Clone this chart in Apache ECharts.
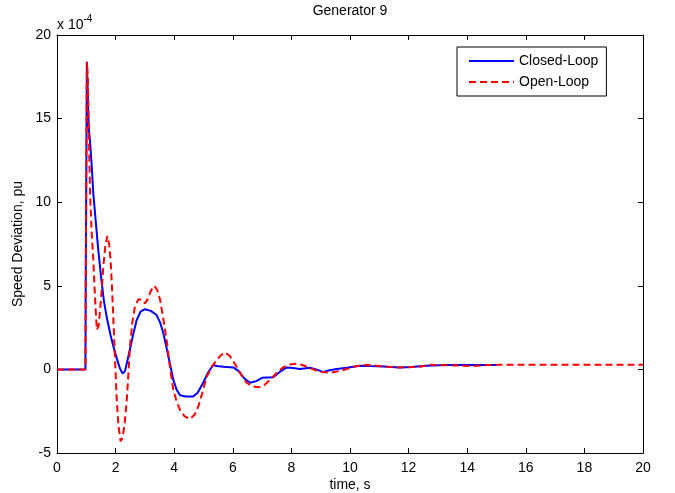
<!DOCTYPE html>
<html>
<head>
<meta charset="utf-8">
<script src="https://cdn.jsdelivr.net/npm/echarts@6/dist/echarts.min.js"></script>
<style>
html,body{margin:0;padding:0;background:#ffffff;}
#chart{width:675px;height:493px;}
</style>
</head>
<body>
<div id="chart"></div>
<script>
/**
 * =====================================================
 * Generator 9 - Speed Deviation (x 10^-4 pu)
 * =====================================================
 */

const seriesNames=["Closed-Loop","Open-Loop"];

const xTicks=[0,2,4,6,8,10,12,14,16,18,20];
const yTicks=[-5,0,5,10,15,20];

const closedTime=[
    0,0.97,0.98,1.02,1.05,1.08,1.12,1.18,1.24,1.32,1.40,1.50,1.60,1.70,1.82,1.92,
    2.05,2.15,2.24,2.32,2.40,2.49,2.60,2.72,2.85,3.0,3.2,3.4,3.52,3.63,3.75,3.87,
    3.97,4.08,4.2,4.4,4.65,4.8,4.99,5.15,5.33,5.45,5.68,6.02,6.2,6.4,6.59,6.8,
    7.0,7.38,7.6,7.84,8.05,8.29,8.63,8.85,9.09,9.3,9.55,9.89,10.34,10.7,11.14,
    11.7,12.1,12.6,13.3,14.0,15.0
];

const closedValue=[
    0,0,4.9,18.4,16.5,14.5,13.8,12.3,10.5,8.9,7.3,5.6,4.1,3.1,2.1,1.4,
    0.6,0.05,-0.25,-0.1,0.5,1.2,2.1,2.95,3.45,3.6,3.5,3.25,2.8,2.16,1.2,0.2,
    -0.63,-1.2,-1.55,-1.62,-1.62,-1.4,-0.8,-0.2,0.26,0.2,0.16,0.12,-0.1,-0.55,-0.8,-0.7,
    -0.5,-0.47,-0.15,0.12,0.08,0.02,0.1,0,-0.16,-0.05,0.02,0.1,0.22,0.2,0.18,
    0.12,0.15,0.22,0.26,0.26,0.27
];

const openTime=[
    0,0.97,0.98,1.02,1.05,1.08,1.10,1.13,1.18,1.24,1.30,1.36,1.42,1.47,1.52,1.58,
    1.65,1.72,1.78,1.83,1.88,1.92,1.98,2.04,2.1,2.17,2.24,2.31,2.38,2.44,2.49,2.57,
    2.66,2.78,2.9,3.0,3.1,3.2,3.32,3.42,3.52,3.63,3.74,3.85,3.97,4.08,4.2,4.35,
    4.54,4.7,4.82,4.96,5.11,5.3,5.45,5.6,5.73,5.9,6.13,6.3,6.47,6.67,6.87,7.07,
    7.27,7.5,7.72,7.95,8.18,8.4,8.52,8.75,8.98,9.32,9.55,9.77,10.0,10.23,10.57,
    10.9,11.25,11.7,12.1,12.4,12.7,13.0,13.6,14.2,14.7,15.2,20
];

const openValue=[
    0,0,4.9,18.4,17.5,15.0,13.0,10.5,8.3,6.5,4.2,2.36,2.6,3.55,4.6,6.14,
    7.4,7.98,7.5,6.5,4.8,3.15,0.6,-1.83,-3.4,-4.3,-4.1,-3.2,-1.83,-0.2,1.36,2.8,
    3.75,4.2,4.15,3.95,4.2,4.7,5.0,4.75,4.15,3.0,1.76,0.2,-1.23,-1.9,-2.43,-2.8,
    -2.98,-2.7,-2.23,-1.4,-0.44,0.2,0.56,0.85,1.02,0.8,0.16,-0.35,-0.8,-1.02,-1.07,-0.95,
    -0.63,-0.2,0.12,0.3,0.34,0.25,0.16,0,-0.16,-0.2,-0.12,-0.04,0.08,0.2,0.26,
    0.22,0.16,0.12,0.14,0.16,0.28,0.26,0.24,0.2,0.26,0.28,0.28
];

const font="'Liberation Sans', Arial, sans-serif";

function pairs(
    times,
    values
){
    return times.map(
        (t,i)=>[t,values[i]]
    );
}

/**
 * =====================================================
 * Axes
 * =====================================================
 */

function boxAxis(
    position,
    ticks,
    showLabel,
    margin
){
    return{
        type:"value",
        position,
        min:ticks[0],
        max:ticks[ticks.length-1],
        interval:ticks[1]-ticks[0],
        axisLine:{show:true,onZero:false,lineStyle:{color:"#000000",width:1}},
        axisTick:{show:true,inside:true,length:5,lineStyle:{color:"#000000"}},
        splitLine:{show:false},
        axisLabel:{
            show:showLabel,
            color:"#000000",
            fontFamily:font,
            fontSize:14,
            margin
        }
    };
}

const chart=echarts.init(
    document.getElementById("chart"),
    null,
    {renderer:"canvas"}
);

chart.setOption({
    backgroundColor:"#ffffff",
    animation:false,
    grid:{left:57,right:32,top:35,bottom:40},
    xAxis:[
        boxAxis("bottom",xTicks,true,8),
        boxAxis("top",xTicks,false,8)
    ],
    yAxis:[
        boxAxis("left",yTicks,true,6),
        boxAxis("right",yTicks,false,6)
    ],
    legend:{
        orient:"vertical",
        left:457,
        top:47,
        padding:[7,8,7,11],
        itemGap:7,
        itemWidth:45,
        itemHeight:14,
        backgroundColor:"#ffffff",
        borderColor:"#000000",
        borderWidth:1,
        borderRadius:0,
        itemStyle:{opacity:0},
        textStyle:{color:"#000000",fontFamily:font,fontSize:14},
        data:seriesNames
    },
    graphic:[
        {
            type:"text",
            x:350,
            y:4,
            style:{text:"Generator 9",textAlign:"center",fill:"#000000",font:"14px "+font}
        },
        {
            type:"text",
            x:350,
            y:478,
            style:{text:"time, s",textAlign:"center",fill:"#000000",font:"14px "+font}
        },
        {
            type:"text",
            x:11,
            y:244,
            rotation:Math.PI/2,
            style:{text:"Speed Deviation, pu",textAlign:"center",textVerticalAlign:"top",fill:"#000000",font:"14px "+font}
        },
        {
            type:"text",
            x:57,
            y:14,
            style:{
                text:"{a|x 10}{b|-4}",
                rich:{
                    a:{fontFamily:font,fontSize:14,fill:"#000000",verticalAlign:"bottom"},
                    b:{fontFamily:font,fontSize:10,fill:"#000000",padding:[0,0,8,0],verticalAlign:"bottom"}
                }
            }
        }
    ],
    series:[
        {
            name:seriesNames[0],
            type:"line",
            showSymbol:false,
            symbol:"none",
            data:pairs(closedTime,closedValue),
            lineStyle:{color:"#0000ff",width:2},
            itemStyle:{color:"#0000ff"}
        },
        {
            name:seriesNames[1],
            type:"line",
            showSymbol:false,
            symbol:"none",
            data:pairs(openTime,openValue),
            lineStyle:{color:"#ff0000",width:2,type:[7,4]},
            itemStyle:{color:"#ff0000"}
        }
    ]
});
</script>
</body>
</html>
